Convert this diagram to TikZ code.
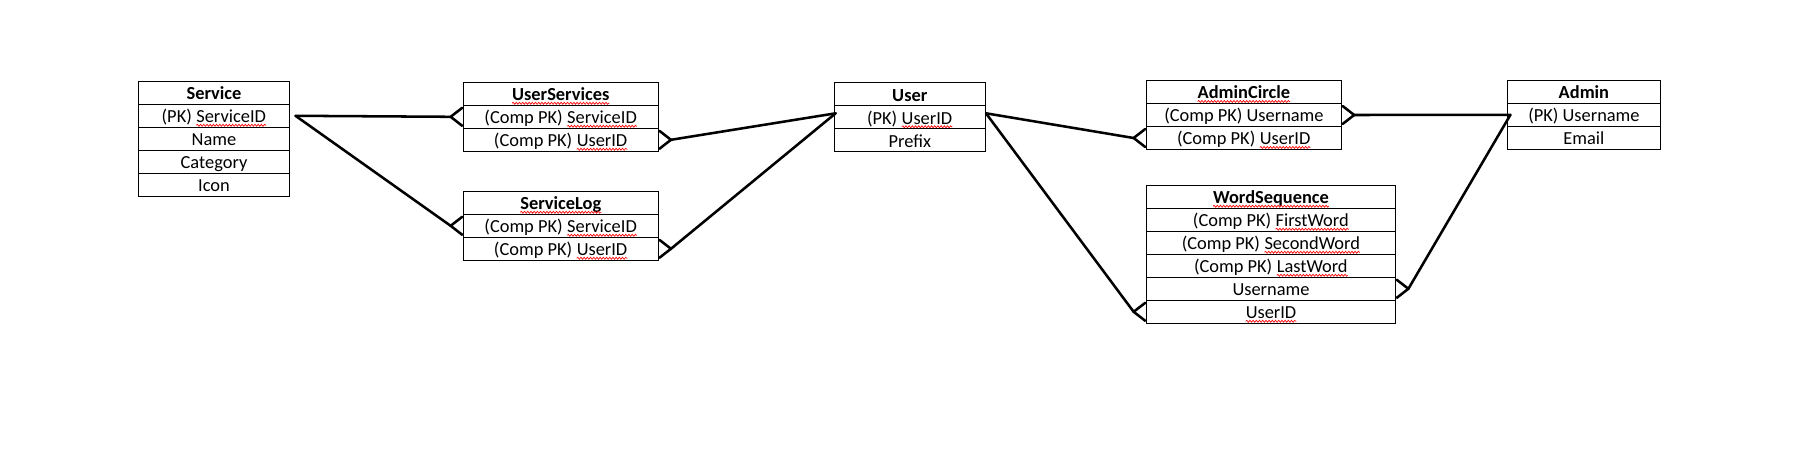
\documentclass[tikz,border=0pt]{standalone}
\usepackage{fontspec}
\setmainfont{Carlito}
\usetikzlibrary{decorations.pathmorphing}
\tikzset{
  row/.style={draw=black, line width=0.8pt, inner sep=0pt, outer sep=0pt,
    minimum height=17.25pt, text height=11.6pt, text depth=1.4pt,
    font=\fontsize{13.8}{16}\selectfont, anchor=center},
  conn/.style={draw=black, line width=1.9pt, line cap=round, line join=round},
  sqline/.style={draw=red, line width=0.5pt, decorate,
    decoration={snake, amplitude=0.75pt, segment length=2.4pt}}
}
\newcommand\sq[1]{\tikz[baseline=(sqw.base)]{\node[draw=none, inner sep=0pt, outer sep=0pt,
  minimum width=0pt, minimum height=0pt, text height=, text depth=] (sqw) {#1};
  \draw[sqline] ([yshift=-2pt]sqw.base west) -- ([yshift=-2pt]sqw.base east);}}
\newcommand\dbtable[5]{%
  \foreach \t [count=\i] in {#5} {
    \node[row, minimum width=#4*0.75pt] (#1\i) at (#2, {#3+23*\i-11.5}) {\t};
  }}
\newcommand\crowL[1]{%
  \coordinate (#1A) at ([xshift=-9.5pt]#1.west);
  \draw[conn] ([xshift=-0.8pt,yshift=6.75pt]#1.west) -- (#1A) -- ([xshift=-0.8pt,yshift=-6.75pt]#1.west);}
\newcommand\crowR[1]{%
  \coordinate (#1B) at ([xshift=9.5pt]#1.east);
  \draw[conn] ([xshift=0.8pt,yshift=6.75pt]#1.east) -- (#1B) -- ([xshift=0.8pt,yshift=-6.75pt]#1.east);}
\begin{document}
\begin{tikzpicture}[x=0.75pt, y=-0.75pt]
  \fill[white] (0,0) rectangle (1801,457);
  \useasboundingbox (0,0) rectangle (1801,457);

  \dbtable{svc}{214}{81.3}{151}{{\textbf{Service}},{(PK) \sq{ServiceID}},Name,Category,Icon}
  \dbtable{us}{560.8}{82.3}{195}{{\textbf{\sq{UserServices}}},{(Comp PK) \sq{ServiceID}},{(Comp PK) \sq{UserID}}}
  \dbtable{sl}{560.8}{191.3}{195}{{\textbf{\sq{ServiceLog}}},{(Comp PK) \sq{ServiceID}},{(Comp PK) \sq{UserID}}}
  \dbtable{usr}{909.8}{82.8}{151}{{\textbf{User}},{(PK) \sq{UserID}},Prefix}
  \dbtable{ac}{1243.9}{80.5}{195.2}{{\textbf{\sq{AdminCircle}}},{(Comp PK) Username},{(Comp PK) \sq{UserID}}}
  \dbtable{adm}{1583.9}{80.3}{152.3}{{\textbf{Admin}},{(PK) Username},Email}
  \dbtable{ws}{1271}{185.3}{249.4}{{\textbf{\sq{WordSequence}}},{(Comp PK) \sq{FirstWord}},{(Comp PK) \sq{SecondWord}},{(Comp PK) \sq{LastWord}},Username,{\sq{UserID}}}

  \coordinate (sR) at ([xshift=4.5pt]svc2.east);
  \coordinate (uL) at ([xshift=1pt,yshift=3pt]usr2.west);
  \coordinate (uR) at ([xshift=0.5pt,yshift=3pt]usr2.east);
  \coordinate (admL) at ([xshift=2pt]adm2.west);

  \crowL{us2}
  \crowL{sl2}
  \crowR{us3}
  \crowR{sl3}
  \crowL{ac3}
  \crowL{ws6}
  \crowR{ac2}
  \crowR{ws5}

  \draw[conn] (sR) -- (us2A);
  \draw[conn] (sR) -- (sl2A);
  \draw[conn] (us3B) -- (uL);
  \draw[conn] (sl3B) -- (uL);
  \draw[conn] (uR) -- (ac3A);
  \draw[conn] (uR) -- (ws6A);
  \draw[conn] (ac2B) -- (admL);
  \draw[conn] (ws5B) -- (admL);
\end{tikzpicture}
\end{document}
